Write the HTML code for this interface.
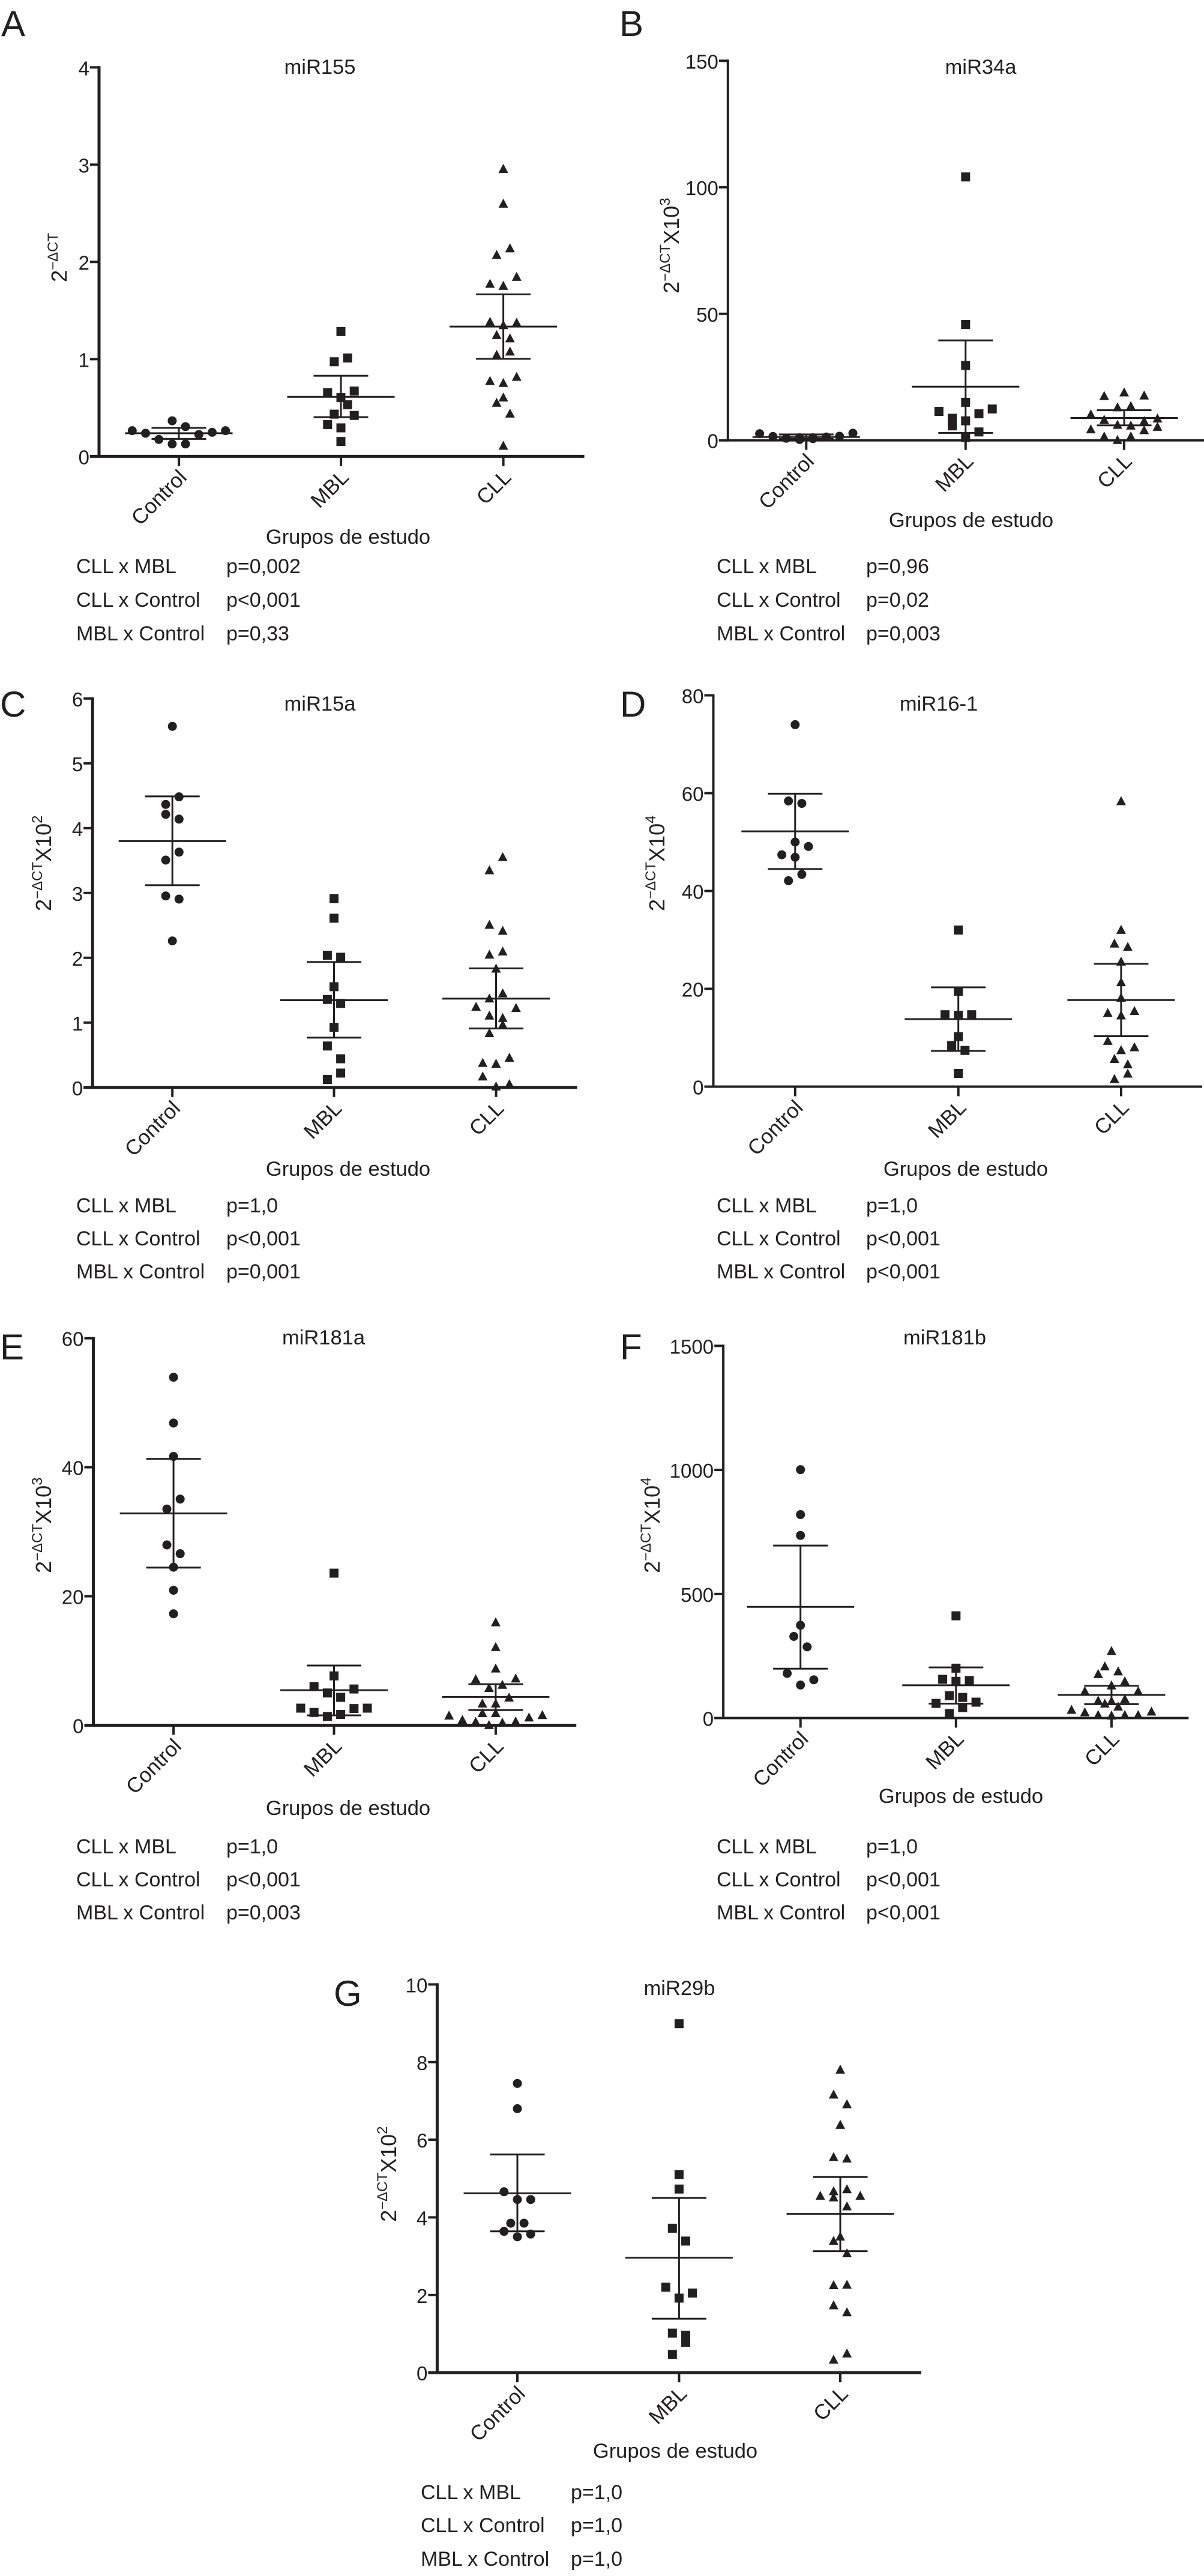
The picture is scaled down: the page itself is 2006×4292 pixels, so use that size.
<!DOCTYPE html>
<html lang="pt">
<head>
<meta charset="utf-8">
<title>miRNA expression by study group</title>
<style>
  html, body { margin: 0; padding: 0; background: #ffffff; }
  svg { display: block; }
  text { font-family: "Liberation Sans", sans-serif; fill: #231f20; }
  .letter { font-size: 60px; }
  .title { font-size: 34.5px; text-anchor: middle; }
  .xlabel { font-size: 34.5px; text-anchor: middle; }
  .ytitle { font-size: 36px; }
  .sup { font-size: 24px; }
  .ptext { font-size: 34px; }
  .tick-label { font-size: 33px; text-anchor: end; }
  .cat-label { font-size: 35px; text-anchor: end; }
</style>
</head>
<body>
<svg id="figure" xmlns="http://www.w3.org/2000/svg" width="2006" height="4292" viewBox="0 0 2006 4292">
  <rect width="2006" height="4292" fill="#ffffff"/>

  <!-- Panel A -->
  <g>
    <text class="letter" x="2" y="60">A</text>
    <text class="title" x="533" y="123">miR155</text>
    <text class="ytitle" transform="translate(111 470) rotate(-90)">2<tspan class="sup" dy="-15">−ΔCT</tspan></text>
    <text class="xlabel" x="580" y="906">Grupos de estudo</text>
    <g>
      <text class="ptext" x="127" y="955">CLL x MBL</text><text class="ptext" x="377" y="955">p=0,002</text>
      <text class="ptext" x="127" y="1011">CLL x Control</text><text class="ptext" x="377" y="1011">p&lt;0,001</text>
      <text class="ptext" x="127" y="1067">MBL x Control</text><text class="ptext" x="377" y="1067">p=0,33</text>
    </g>
  </g>

  <!-- Panel B -->
  <g>
    <text class="letter" x="1032" y="60">B</text>
    <text class="title" x="1634" y="123">miR34a</text>
    <text class="ytitle" transform="translate(1131 489) rotate(-90)">2<tspan class="sup" dy="-15">−ΔCT</tspan><tspan dy="15">X10</tspan><tspan class="sup" dy="-15">3</tspan></text>
    <text class="xlabel" x="1618" y="878">Grupos de estudo</text>
    <g>
      <text class="ptext" x="1194" y="955">CLL x MBL</text><text class="ptext" x="1443" y="955">p=0,96</text>
      <text class="ptext" x="1194" y="1011">CLL x Control</text><text class="ptext" x="1443" y="1011">p=0,02</text>
      <text class="ptext" x="1194" y="1067">MBL x Control</text><text class="ptext" x="1443" y="1067">p=0,003</text>
    </g>
  </g>

  <!-- Panel C -->
  <g>
    <text class="letter" x="0" y="1194">C</text>
    <text class="title" x="533" y="1184">miR15a</text>
    <text class="ytitle" transform="translate(85 1518) rotate(-90)">2<tspan class="sup" dy="-15">−ΔCT</tspan><tspan dy="15">X10</tspan><tspan class="sup" dy="-15">2</tspan></text>
    <text class="xlabel" x="580" y="1959">Grupos de estudo</text>
    <g>
      <text class="ptext" x="127" y="2020">CLL x MBL</text><text class="ptext" x="377" y="2020">p=1,0</text>
      <text class="ptext" x="127" y="2075">CLL x Control</text><text class="ptext" x="377" y="2075">p&lt;0,001</text>
      <text class="ptext" x="127" y="2130">MBL x Control</text><text class="ptext" x="377" y="2130">p=0,001</text>
    </g>
  </g>

  <!-- Panel D -->
  <g>
    <text class="letter" x="1033" y="1194">D</text>
    <text class="title" x="1564" y="1184">miR16-1</text>
    <text class="ytitle" transform="translate(1107 1518) rotate(-90)">2<tspan class="sup" dy="-15">−ΔCT</tspan><tspan dy="15">X10</tspan><tspan class="sup" dy="-15">4</tspan></text>
    <text class="xlabel" x="1609" y="1959">Grupos de estudo</text>
    <g>
      <text class="ptext" x="1194" y="2020">CLL x MBL</text><text class="ptext" x="1443" y="2020">p=1,0</text>
      <text class="ptext" x="1194" y="2075">CLL x Control</text><text class="ptext" x="1443" y="2075">p&lt;0,001</text>
      <text class="ptext" x="1194" y="2130">MBL x Control</text><text class="ptext" x="1443" y="2130">p&lt;0,001</text>
    </g>
  </g>

  <!-- Panel E -->
  <g>
    <text class="letter" x="0" y="2265">E</text>
    <text class="title" x="539" y="2240">miR181a</text>
    <text class="ytitle" transform="translate(85 2621) rotate(-90)">2<tspan class="sup" dy="-15">−ΔCT</tspan><tspan dy="15">X10</tspan><tspan class="sup" dy="-15">3</tspan></text>
    <text class="xlabel" x="580" y="3024">Grupos de estudo</text>
    <g>
      <text class="ptext" x="127" y="3088">CLL x MBL</text><text class="ptext" x="377" y="3088">p=1,0</text>
      <text class="ptext" x="127" y="3143">CLL x Control</text><text class="ptext" x="377" y="3143">p&lt;0,001</text>
      <text class="ptext" x="127" y="3198">MBL x Control</text><text class="ptext" x="377" y="3198">p=0,003</text>
    </g>
  </g>

  <!-- Panel F -->
  <g>
    <text class="letter" x="1033" y="2265">F</text>
    <text class="title" x="1574" y="2240">miR181b</text>
    <text class="ytitle" transform="translate(1099 2621) rotate(-90)">2<tspan class="sup" dy="-15">−ΔCT</tspan><tspan dy="15">X10</tspan><tspan class="sup" dy="-15">4</tspan></text>
    <text class="xlabel" x="1601" y="3004">Grupos de estudo</text>
    <g>
      <text class="ptext" x="1194" y="3088">CLL x MBL</text><text class="ptext" x="1443" y="3088">p=1,0</text>
      <text class="ptext" x="1194" y="3143">CLL x Control</text><text class="ptext" x="1443" y="3143">p&lt;0,001</text>
      <text class="ptext" x="1194" y="3198">MBL x Control</text><text class="ptext" x="1443" y="3198">p&lt;0,001</text>
    </g>
  </g>

  <!-- Panel G -->
  <g>
    <text class="letter" x="556" y="3342">G</text>
    <text class="title" x="1132" y="3324">miR29b</text>
    <text class="ytitle" transform="translate(660 3702) rotate(-90)">2<tspan class="sup" dy="-15">−ΔCT</tspan><tspan dy="15">X10</tspan><tspan class="sup" dy="-15">2</tspan></text>
    <text class="xlabel" x="1125" y="4095">Grupos de estudo</text>
    <g>
      <text class="ptext" x="701" y="4164">CLL x MBL</text><text class="ptext" x="951" y="4164">p=1,0</text>
      <text class="ptext" x="701" y="4219">CLL x Control</text><text class="ptext" x="951" y="4219">p=1,0</text>
      <text class="ptext" x="701" y="4275">MBL x Control</text><text class="ptext" x="951" y="4275">p=1,0</text>
    </g>
  </g>
</svg>

<script>
const categories = ['Control', 'MBL', 'CLL'];

/* miR155 */
const miR155Ticks = [0, 1, 2, 3, 4];
const miR155Control = [0.264, 0.238, 0.174, 0.366, 0.128, 0.306, 0.128, 0.225, 0.247, 0.264];
const miR155ControlSlots = [-7, -5, -3, -1, -1, 1, 1, 3, 5, 7];
const miR155MBL = [1.284, 1.012, 0.973, 0.655, 0.672, 0.604, 0.531, 0.434, 0.421, 0.327, 0.293, 0.153];
const miR155MBLSlots = [0, 1, -1, -2, 2, 0, 1, -1, 2, -2, 0, 0];
const miR155CLL = [2.959, 2.601, 2.142, 2.074, 1.849, 1.777, 1.756, 1.386, 1.352, 1.377, 1.25, 1.216, 1.046, 1.08, 0.778, 0.757, 0.82, 0.608, 0.553, 0.442, 0.111];
const miR155CLLSlots = [0, 0, 1, -1, 2, -2, 0, -2, 0, 2, -1, 1, -1, 1, -2, 0, 2, 0, -1, 1, 0];
const miR155Means = [0.238, 0.612, 1.335];
const miR155Upper = [0.293, 0.829, 1.666];
const miR155Lower = [0.179, 0.404, 1.003];

/* miR34a */
const miR34aTicks = [0, 50, 100, 150];
const miR34aControl = [2.6, 1.5, 0.8, 0.3, 0.65, 1.3, 1.6, 2.8, 1.0, 1.0];
const miR34aControlSlots = [-7, -5, -3, -1, 1, 3, 5, 7, -1, 1];
const miR34aMBL = [104.1, 45.8, 29.6, 15, 11.4, 12.4, 10.5, 8.7, 7, 5.7, 7.7, 3.3, 1.1];
const miR34aMBLSlots = [0, 0, 0, 0, -4, 4, 2, -2, -2, -2, 0, 2, 0];
const miR34aCLL = [17.6, 19, 17.8, 13.1, 13.6, 10.3, 8.7, 8.2, 7.7, 6.2, 5.9, 5.4, 4.4, 4.1, 1.6, 1.6, 0.2];
const miR34aCLLSlots = [-3, 0, 3, -1, 1, -5, 5, -3, 3, -1, 1, 5, -5, 3, -3, 1, -1];
const miR34aMeans = [1.3, 21.2, 8.8];
const miR34aUpper = [2.3, 39.5, 11.9];
const miR34aLower = [0.5, 2.9, 5.9];

/* miR15a */
const miR15aTicks = [0, 1, 2, 3, 4, 5, 6];
const miR15aControl = [5.57, 4.483, 4.366, 4.213, 4.139, 3.63, 3.507, 2.954, 2.905, 2.26];
const miR15aControlSlots = [0, 1, -1, -1, 1, 1, -1, -1, 1, 0];
const miR15aMBL = [2.911, 2.61, 2.039, 2.008, 1.554, 1.357, 1.296, 0.927, 0.639, 0.442, 0.221, 0.123];
const miR15aMBLSlots = [0, 0, -1, 1, 0, -1, 1, 0, -1, 1, 1, -1];
const miR15aCLL = [3.556, 3.353, 2.512, 2.42, 2.051, 2.1, 1.836, 1.455, 1.376, 1.247, 1.228, 1.112, 1.075, 0.97, 0.841, 0.381, 0.368, 0.461, 0.172, 0.018, 0.055];
const miR15aCLLSlots = [1, -1, -1, 1, -1, 1, 0, 1, -1, -3, 3, -1, 1, 1, -1, -2, 0, 2, -2, 0, 2];
const miR15aMeans = [3.80, 1.345, 1.37];
const miR15aUpper = [4.49, 1.935, 1.836];
const miR15aLower = [3.12, 0.768, 0.909];

/* miR16-1 */
const miR16Ticks = [0, 20, 40, 60, 80];
const miR16Control = [74, 58.4, 57.9, 50, 49.1, 47.4, 46.9, 43.4, 42.1];
const miR16ControlSlots = [0, -1, 1, 0, 2, -2, 0, 1, -1];
const miR16MBL = [32, 19.5, 14.7, 14.6, 14.7, 10.2, 8.4, 7.4, 2.7];
const miR16MBLSlots = [0, 0, -2, 0, 2, 0, -1, 1, 0];
const miR16CLL = [58.4, 32.1, 29.3, 28.6, 25.6, 21.4, 18.2, 15.1, 15.5, 14.6, 9.4, 7.5, 8.1, 5.7, 4.6, 2.7, 1.6];
const miR16CLLSlots = [0, 0, -1, 1, 0, 0, 0, -2, 2, 0, -2, 0, 2, -1, 1, 1, -1];
const miR16Means = [52.2, 13.8, 17.7];
const miR16Upper = [59.9, 20.3, 25.1];
const miR16Lower = [44.5, 7.3, 10.3];

/* miR181a */
const miR181aTicks = [0, 20, 40, 60];
const miR181aControl = [53.95, 46.85, 41.67, 35.06, 33.52, 27.96, 26.6, 24.5, 20.93, 17.28];
const miR181aControlSlots = [0, 0, 0, 1, -1, -1, 1, 0, 0, 0];
const miR181aMBL = [23.58, 7.65, 5.99, 5.62, 5, 4.32, 2.65, 2.59, 2.65, 1.98, 1.36, 1.67];
const miR181aMBLSlots = [0, 0, -3, 3, -1, 1, -5, 3, 5, -3, -1, 1];
const miR181aCLL = [15.99, 12.16, 8.83, 7.16, 7.28, 5.8, 6.3, 4.32, 3.4, 3.4, 1.91, 1.91, 1.54, 1.6, 1.23, 0.86, 0.56, 0.43, 0.62, 0.06];
const miR181aCLLSlots = [0, 0, 0, -3, 3, -1, 1, 2, -2, 0, -2, 0, -7, 7, 5, -5, -3, 1, 3, -1];
const miR181aMeans = [32.84, 5.43, 4.38];
const miR181aUpper = [41.3, 9.26, 6.36];
const miR181aLower = [24.44, 1.54, 2.35];

/* miR181b */
const miR181bTicks = [0, 500, 1000, 1500];
const miR181bControl = [1001, 820, 736, 374, 329, 287, 180, 154, 133];
const miR181bControlSlots = [0, 0, 0, 0, -1, 1, -2, 2, 0];
const miR181bMBL = [412, 201, 156, 151, 148, 90, 83, 59, 64, 42, 18];
const miR181bMBLSlots = [0, 0, -2, 2, 0, -1, 1, -3, 3, 1, -1];
const miR181bCLL = [271, 209, 178, 189, 149, 132, 109, 109, 77, 71, 69, 59, 47, 34, 27, 24, 13, 11, 13, 13];
const miR181bCLLSlots = [0, -1, -2, 1, 2, 0, -4, 4, 2, -2, 0, -1, 1, -6, 6, -4, -2, 0, 2, 4];
const miR181bMeans = [448, 132, 93];
const miR181bUpper = [695, 204, 130];
const miR181bLower = [199, 58, 56];

/* miR29b */
const miR29bTicks = [0, 2, 4, 6, 8, 10];
const miR29bControl = [7.45, 6.8, 4.66, 4.46, 4.46, 3.85, 3.85, 3.64, 3.57, 3.5];
const miR29bControlSlots = [0, 0, -2, 0, 2, -1, 1, -2, 2, 0];
const miR29bMBL = [8.99, 5.1, 4.73, 3.72, 3.39, 2.2, 2.05, 1.92, 1.02, 0.96, 0.78, 0.47];
const miR29bMBLSlots = [0, 0, 0, -1, 1, -2, 2, 0, -1, 1, 1, -1];
const miR29bCLL = [7.81, 7.17, 6.92, 6.39, 5.56, 5.52, 4.56, 4.68, 4.73, 4.56, 4.52, 4.29, 3.51, 3.4, 3.08, 2.26, 2.27, 1.74, 1.56, 0.5, 0.34];
const miR29bCLLSlots = [0, -1, 1, 0, -1, 1, -3, -1, 1, 3, -1, 1, 0, -1, 1, -1, 1, -1, 1, 1, -1];
const miR29bMeans = [4.62, 2.96, 4.09];
const miR29bUpper = [5.62, 4.5, 5.04];
const miR29bLower = [3.64, 1.39, 3.13];

/* Layout of each plot frame (pixels) and which data arrays it draws */
const panels = [
  { id: 'mir155', axisX: 165, top: 112.3, base: 760.4, right: 973.6, centers: [298, 568, 838.6], axisW: 5,
    ticks: miR155Ticks, groups: [[miR155Control, miR155ControlSlots], [miR155MBL, miR155MBLSlots], [miR155CLL, miR155CLLSlots]],
    means: miR155Means, upper: miR155Upper, lower: miR155Lower },
  { id: 'mir34a', axisX: 1212.8, top: 101.3, base: 733.6, right: 2006, centers: [1343.3, 1608.8, 1873], axisW: 4,
    ticks: miR34aTicks, groups: [[miR34aControl, miR34aControlSlots], [miR34aMBL, miR34aMBLSlots], [miR34aCLL, miR34aCLLSlots]],
    means: miR34aMeans, upper: miR34aUpper, lower: miR34aLower },
  { id: 'mir15a', axisX: 154.2, top: 1163.8, base: 1811.8, right: 961.5, centers: [287.2, 556.5, 826.5], axisW: 5,
    ticks: miR15aTicks, groups: [[miR15aControl, miR15aControlSlots], [miR15aMBL, miR15aMBLSlots], [miR15aCLL, miR15aCLLSlots]],
    means: miR15aMeans, upper: miR15aUpper, lower: miR15aLower },
  { id: 'mir16-1', axisX: 1188.5, top: 1158.5, base: 1810.5, right: 2003, centers: [1324.8, 1596.7, 1867.9], axisW: 4,
    ticks: miR16Ticks, groups: [[miR16Control, miR16ControlSlots], [miR16MBL, miR16MBLSlots], [miR16CLL, miR16CLLSlots]],
    means: miR16Means, upper: miR16Upper, lower: miR16Lower },
  { id: 'mir181a', axisX: 155.5, top: 2229.7, base: 2874.5, right: 960.2, centers: [289.1, 556.5, 825.9], axisW: 5,
    ticks: miR181aTicks, groups: [[miR181aControl, miR181aControlSlots], [miR181aMBL, miR181aMBLSlots], [miR181aCLL, miR181aCLLSlots]],
    means: miR181aMeans, upper: miR181aUpper, lower: miR181aLower },
  { id: 'mir181b', axisX: 1205.1, top: 2242.4, base: 2862.5, right: 1980.4, centers: [1333.7, 1592.8, 1851.9], axisW: 4,
    ticks: miR181bTicks, groups: [[miR181bControl, miR181bControlSlots], [miR181bMBL, miR181bMBLSlots], [miR181bCLL, miR181bCLLSlots]],
    means: miR181bMeans, upper: miR181bUpper, lower: miR181bLower },
  { id: 'mir29b', axisX: 728.4, top: 3306.4, base: 3953.2, right: 1535, centers: [862, 1131.4, 1400], axisW: 5,
    ticks: miR29bTicks, groups: [[miR29bControl, miR29bControlSlots], [miR29bMBL, miR29bMBLSlots], [miR29bCLL, miR29bCLLSlots]],
    means: miR29bMeans, upper: miR29bUpper, lower: miR29bLower }
];

const INK = '#231f20';
const SLOT_PX = 11.1;
const MEAN_HALF = 89.5;
const CAP_HALF = 45.5;
const LABEL_SHIFT = [15, 15, 15];
const svgNS = 'http://www.w3.org/2000/svg';
const figure = document.getElementById('figure');

function node(tag, parent) {
  const n = document.createElementNS(svgNS, tag);
  parent.appendChild(n);
  return n;
}

function segment(parent, x1, y1, x2, y2, w, cap) {
  const l = node('line', parent);
  l.setAttribute('x1', x1);
  l.setAttribute('y1', y1);
  l.setAttribute('x2', x2);
  l.setAttribute('y2', y2);
  l.setAttribute('stroke', INK);
  l.setAttribute('stroke-width', w);
  l.setAttribute('stroke-linecap', cap || 'butt');
  return l;
}

function drawMarker(parent, kind, cx, cy) {
  let m;
  if (kind === 0) {
    m = node('circle', parent);
    m.setAttribute('cx', cx);
    m.setAttribute('cy', cy);
    m.setAttribute('r', 7.5);
  } else if (kind === 1) {
    m = node('rect', parent);
    m.setAttribute('x', cx - 7.5);
    m.setAttribute('y', cy - 7.5);
    m.setAttribute('width', 15);
    m.setAttribute('height', 15);
  } else {
    m = node('polygon', parent);
    m.setAttribute('points', cx + ',' + (cy - 8) + ' ' + (cx + 8) + ',' + (cy + 7) + ' ' + (cx - 8) + ',' + (cy + 7));
  }
  m.setAttribute('fill', INK);
  return m;
}

function drawPanel(p) {
  const yMax = p.ticks[p.ticks.length - 1];
  const yScale = function (v) { return p.base - (v / yMax) * (p.base - p.top); };
  const xScale = function (groupIndex, slot) { return p.centers[groupIndex] + slot * SLOT_PX; };

  const g = node('g', figure);
  
  

  const yAxis = segment(g, p.axisX, p.top - 2, p.axisX, p.base + 2, p.axisW);
  
  

  const xAxis = segment(g, p.axisX - 15, p.base, p.right, p.base, p.axisW);
  
  

  p.ticks.forEach(function (t) {
    const py = yScale(t);
    const mark = segment(g, p.axisX - 15, py, p.axisX, py, 4);
    
    
    const label = node('text', g);
    label.setAttribute('class', 'tick-label');
    label.setAttribute('x', p.axisX - 16);
    label.setAttribute('y', py + 13);
    label.textContent = String(t);
    
    
  });

  categories.forEach(function (cat, i) {
    const cx = xScale(i, 0);
    const tick = segment(g, cx, p.base, cx, p.base + 16, 4);
    
    
    const label = node('text', g);
    label.setAttribute('class', 'cat-label');
    label.setAttribute('transform', 'translate(' + (cx + LABEL_SHIFT[i]) + ' ' + (p.base + 37) + ') rotate(-45)');
    label.textContent = cat;
    
    
  });

  p.groups.forEach(function (group, i) {
    const values = group[0];
    const slots = group[1];
    const series = node('g', g);
    
    
    values.forEach(function (v, k) {
      const pt = drawMarker(series, i, xScale(i, slots[k]), yScale(v));
      
      
    });

    const cx = xScale(i, 0);
    const stem = segment(series, cx, yScale(p.upper[i]), cx, yScale(p.lower[i]), 3);
    
    
    const meanLine = segment(series, cx - MEAN_HALF, yScale(p.means[i]), cx + MEAN_HALF, yScale(p.means[i]), 3);
    
    
    const capTop = segment(series, cx - CAP_HALF, yScale(p.upper[i]), cx + CAP_HALF, yScale(p.upper[i]), 3);
    
    
    const capBottom = segment(series, cx - CAP_HALF, yScale(p.lower[i]), cx + CAP_HALF, yScale(p.lower[i]), 3);
    
    
  });
}

panels.forEach(drawPanel);
</script>
</body>
</html>
